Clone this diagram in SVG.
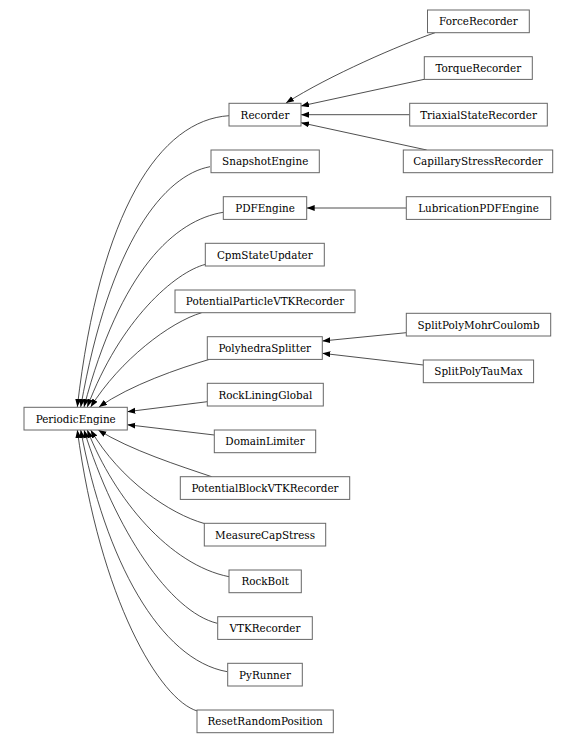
<svg xmlns="http://www.w3.org/2000/svg" width="578" height="743" viewBox="0 0 578 743">
<style>
.n rect{fill:#fff;stroke:#666;stroke-width:1}
.n text{font-family:"DejaVu Serif",serif;font-size:10.4px;fill:#000;text-anchor:middle}
.e path{fill:none;stroke:#222;stroke-width:0.8;marker-end:url(#ah)}
</style>
<defs>
<marker id="ah" markerUnits="userSpaceOnUse" markerWidth="9" markerHeight="7" refX="8" refY="3" orient="auto">
<path d="M0,0 L8,3 L0,6 z" fill="#000"/>
</marker>
</defs>
<rect width="578" height="743" fill="#fff"/>
<g id="edges" class="e">
<path d="M435,32.7 C400,45 330,75 286,103"/>
<path d="M424.3,79.3 L301,106"/>
<path d="M409.7,114.7 L301,114.7"/>
<path d="M426.7,150 L301,122.7"/>
<path d="M406.3,208 L306.7,208"/>
<path d="M406.3,332.7 L322.3,341"/>
<path d="M423.3,365 L322.3,353.3"/>
<path d="M229,115.7 C160,120 100,210 77.3,407"/>
<path d="M210,166.7 C165,175 110,240 80.7,407"/>
<path d="M223.3,212.3 C175,220 120,270 84,407"/>
<path d="M205.7,264.3 C175,272 120,320 87.3,407"/>
<path d="M201.7,312.7 C170,322 120,360 90.7,407"/>
<path d="M209,359.5 C180,368 130,385 99,407"/>
<path d="M207.3,401.7 L127.3,411.7"/>
<path d="M214.3,435 L127.3,424.7"/>
<path d="M211.7,476.7 C180,466 130,450 98.3,430"/>
<path d="M204.3,523.5 C170,514 120,480 90.7,430"/>
<path d="M229,576.7 C170,565 115,500 87.3,430"/>
<path d="M217.3,623.3 C170,612 115,530 84,430"/>
<path d="M227.3,671.7 C160,660 105,560 80.7,430"/>
<path d="M197.3,711 C160,700 100,600 77.3,430"/>
</g>
<g id="ForceRecorder" class="n"><rect x="427.5" y="10" width="101.8" height="22.7"/><text x="478.4" y="25.2">ForceRecorder</text></g>
<g id="TorqueRecorder" class="n"><rect x="424.3" y="56.7" width="108" height="22.7"/><text x="478.3" y="71.9">TorqueRecorder</text></g>
<g id="Recorder" class="n"><rect x="229" y="103.3" width="72" height="22.7"/><text x="265" y="118.5">Recorder</text></g>
<g id="TriaxialStateRecorder" class="n"><rect x="409.7" y="103.3" width="137.6" height="22.7"/><text x="478.5" y="118.5">TriaxialStateRecorder</text></g>
<g id="SnapshotEngine" class="n"><rect x="211" y="150" width="108.3" height="22.7"/><text x="265.2" y="165.2">SnapshotEngine</text></g>
<g id="CapillaryStressRecorder" class="n"><rect x="403.3" y="150" width="149.4" height="22.7"/><text x="478" y="165.2">CapillaryStressRecorder</text></g>
<g id="PDFEngine" class="n"><rect x="223.3" y="196.7" width="83.4" height="22.7"/><text x="265" y="211.9">PDFEngine</text></g>
<g id="LubricationPDFEngine" class="n"><rect x="406.3" y="196.7" width="144.4" height="22.7"/><text x="478.5" y="211.9">LubricationPDFEngine</text></g>
<g id="CpmStateUpdater" class="n"><rect x="205.3" y="243.3" width="119" height="22.7"/><text x="264.8" y="258.5">CpmStateUpdater</text></g>
<g id="PotentialParticleVTKRecorder" class="n"><rect x="175" y="290" width="180" height="22.7"/><text x="265" y="305.2">PotentialParticleVTKRecorder</text></g>
<g id="SplitPolyMohrCoulomb" class="n"><rect x="406.3" y="313.3" width="144.4" height="22.7"/><text x="478.5" y="328.5">SplitPolyMohrCoulomb</text></g>
<g id="PolyhedraSplitter" class="n"><rect x="207.3" y="336.7" width="115" height="22.7"/><text x="264.8" y="351.9">PolyhedraSplitter</text></g>
<g id="SplitPolyTauMax" class="n"><rect x="423.3" y="360" width="110.3" height="22.7"/><text x="478.5" y="375.2">SplitPolyTauMax</text></g>
<g id="RockLiningGlobal" class="n"><rect x="207.3" y="383.3" width="116" height="22.7"/><text x="265.3" y="398.5">RockLiningGlobal</text></g>
<g id="PeriodicEngine" class="n"><rect x="24" y="407.3" width="103.3" height="22.7"/><text x="75.7" y="422.5">PeriodicEngine</text></g>
<g id="DomainLimiter" class="n"><rect x="214.3" y="430" width="101.4" height="22.7"/><text x="265" y="445.2">DomainLimiter</text></g>
<g id="PotentialBlockVTKRecorder" class="n"><rect x="180.3" y="476.7" width="169.4" height="22.7"/><text x="265" y="491.9">PotentialBlockVTKRecorder</text></g>
<g id="MeasureCapStress" class="n"><rect x="204.3" y="523.3" width="121.4" height="22.7"/><text x="265" y="538.5">MeasureCapStress</text></g>
<g id="RockBolt" class="n"><rect x="229" y="570" width="72.3" height="22.7"/><text x="265.2" y="585.2">RockBolt</text></g>
<g id="VTKRecorder" class="n"><rect x="217.7" y="616.7" width="94.6" height="22.7"/><text x="265" y="631.9">VTKRecorder</text></g>
<g id="PyRunner" class="n"><rect x="227.7" y="663.3" width="74.6" height="22.7"/><text x="265" y="678.5">PyRunner</text></g>
<g id="ResetRandomPosition" class="n"><rect x="197" y="710" width="136.3" height="22.7"/><text x="265.2" y="725.2">ResetRandomPosition</text></g>
</svg>
